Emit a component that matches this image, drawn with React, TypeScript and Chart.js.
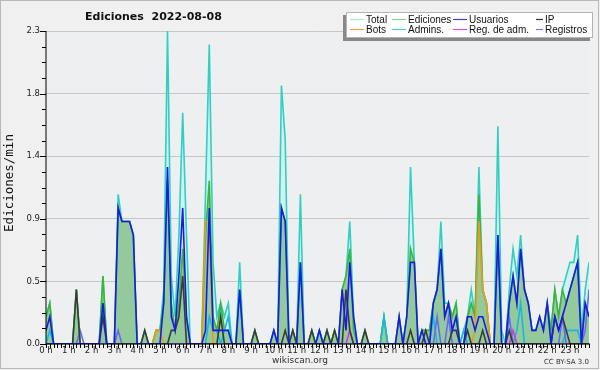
import React, { useEffect, useRef } from 'react';
import { Chart, registerables } from 'chart.js';

Chart.register(...registerables);

// ---- labels ----
const TITLE = 'Ediciones  2022-08-08';
const Y_TITLE = 'Ediciones/min';
const HOURS = ['0 h','1 h','2 h','3 h','4 h','5 h','6 h','7 h','8 h','9 h','10 h','11 h','12 h','13 h','14 h','15 h','16 h','17 h','18 h','19 h','20 h','21 h','22 h','23 h'];
const Y_MAX = 2.3;
const Y_LABELS = ['0.0', '0.5', '0.9', '1.4', '1.8', '2.3'];
const LEGEND_ROW1 = ['Total', 'Ediciones', 'Usuarios', 'IP'];
const LEGEND_ROW2 = ['Bots', 'Admins.', 'Reg. de adm.', 'Registros'];

// ---- data: edits per minute, one value per 10 minutes (6 per hour) ----
const total = [
  0.2,0.3,0,0,0,0,   0,0,0.4,0,0,0,   0,0,0,0.5,0,0,   0,1.1,0.9,0.9,0.9,0.8,
  0,0,0.1,0,0,0.1,   0.1,0.4,2.3,0.5,0.2,0.8,   1.7,0.8,0,0,0,0,   1.1,2.2,0.6,0.2,0.3,0.2,
  0.3,0,0,0.6,0,0,   0,0.1,0,0,0,0,   0.1,0,1.9,1.5,0,0.1,   0,1.1,0,0,0.1,0,
  0.1,0,0.1,0,0.1,0,   0.4,0.5,0.9,0.2,0,0,   0.1,0,0,0,0,0.2,   0,0,0,0.2,0,0.2,
  1.3,0.6,0,0.1,0.1,0.1,   0.3,0.4,0.9,0.3,0.3,0.2,   0.3,0,0.1,0.2,0.4,0.2,   1.3,0.4,0.3,0,0,1.6,
  0.1,0,0.4,0.7,0.5,0.8,   0.4,0.3,0.1,0.1,0.2,0.1,   0.3,0.1,0.4,0.2,0.4,0.5,   0.6,0.6,0.8,0.1,0.4,0.6,
];
const ediciones = [
  0.2,0.3,0,0,0,0,   0,0,0.4,0,0,0,   0,0,0,0.5,0,0,   0,1.0,0.9,0.9,0.9,0.8,
  0,0,0.1,0,0,0.1,   0.1,0.3,1.2,0.3,0.1,0.3,   0.7,0.2,0,0,0,0,   0.8,1.2,0.2,0.1,0.3,0.1,
  0.1,0,0,0.4,0,0,   0,0.1,0,0,0,0,   0.1,0,1.0,0.9,0,0.1,   0,0.6,0,0,0.1,0,
  0.1,0,0.1,0,0.1,0,   0.4,0.5,0.7,0.1,0,0,   0.1,0,0,0,0,0.2,   0,0,0,0.2,0,0.2,
  0.7,0.6,0,0.1,0.1,0.1,   0.3,0.4,0.7,0.2,0.3,0.2,   0.3,0,0,0.2,0.3,0.2,   1.1,0.4,0.3,0,0,0.8,
  0,0,0.3,0.5,0.3,0.7,   0.4,0.3,0.1,0.1,0.2,0.1,   0.3,0.1,0.4,0.2,0.4,0.3,   0.4,0.5,0.6,0,0.3,0.2,
];
const usuarios = [
  0.1,0.2,0,0,0,0,   0,0,0,0,0,0,   0,0,0,0.3,0,0,   0,1.0,0.9,0.9,0.9,0.8,
  0,0,0,0,0,0,   0,0.3,1.3,0.2,0.1,0.5,   1.0,0.2,0,0,0,0,   0.1,1.0,0.1,0.1,0.1,0.1,
  0.1,0,0,0.4,0,0,   0,0,0,0,0,0,   0.1,0,1.0,0.9,0,0,   0,0.6,0,0,0,0,
  0.1,0,0,0,0,0,   0.4,0.1,0.6,0.2,0,0,   0,0,0,0,0,0,   0,0,0,0.2,0,0.2,
  0.6,0.6,0,0.1,0,0,   0.3,0.4,0.7,0.2,0.3,0.1,   0.2,0,0,0.2,0.2,0.1,   0.2,0.2,0.1,0,0,0.8,
  0,0,0.3,0.5,0.3,0.7,   0.4,0.3,0.1,0.1,0.2,0.1,   0.3,0,0.2,0.1,0.2,0.3,   0.4,0.5,0.6,0,0.3,0.2,
];
const ip = [
  0,0,0,0,0,0,   0,0,0.4,0,0,0,   0,0,0,0.2,0,0,   0,0,0,0,0,0,
  0,0,0.1,0,0,0,   0,0,0,0.1,0.1,0.2,   0.5,0,0,0,0,0,   0,0,0,0,0.2,0,
  0,0,0,0,0,0,   0,0.1,0,0,0,0,   0,0,0,0.1,0,0.1,   0,0,0,0,0.1,0,
  0,0,0.1,0,0.1,0,   0,0.4,0.1,0,0,0,   0.1,0,0,0,0,0,   0,0,0,0,0,0,
  0.1,0,0,0,0.1,0,   0,0,0,0,0,0.1,   0.1,0,0,0.1,0,0,   0,0.1,0,0,0,0,
  0,0,0.1,0,0,0,   0,0,0,0,0,0,   0,0,0.2,0.1,0.2,0.1,   0,0,0,0,0,0,
];
const bots = [
  0,0,0,0,0,0,   0,0,0,0,0,0,   0,0,0,0,0,0,   0,0,0,0,0,0,
  0,0,0,0,0,0.1,   0.1,0,0,0,0,0,   0,0,0,0,0,0,   0.9,0.9,0,0,0,0,
  0,0,0,0,0,0,   0,0,0,0,0,0,   0,0,0,0,0,0,   0,0,0,0,0,0,
  0,0,0,0,0,0,   0,0,0,0,0,0,   0,0,0,0,0,0,   0,0,0,0,0,0,
  0,0,0,0,0,0,   0,0,0,0,0,0,   0,0,0,0,0,0.1,   0.9,0.4,0.3,0,0,0,
  0,0,0,0,0,0,   0,0,0,0,0,0,   0,0,0,0,0,0,   0,0,0,0,0,0,
];
const admins = [
  0,0.1,0,0,0,0,   0,0,0,0,0,0,   0,0,0,0,0,0,   0,0,0,0,0,0,
  0,0,0,0,0,0,   0,0,0,0,0,0,   0,0,0,0,0,0,   0,0.2,0.1,0.1,0,0.1,
  0.2,0,0,0,0,0,   0,0,0,0,0,0,   0,0,0,0,0,0,   0,0,0,0,0,0,
  0.1,0,0,0,0,0,   0,0,0,0,0,0,   0,0,0,0,0,0.2,   0,0,0,0,0,0,
  0,0,0,0,0,0,   0.2,0,0,0,0,0,   0,0,0.1,0,0,0,   0,0,0,0,0,0,
  0,0,0,0,0.1,0.3,   0,0,0,0,0,0,   0,0,0,0,0,0.1,   0.1,0.1,0.1,0,0,0,
];
const regAdm = [
  0,0,0,0,0,0,   0,0,0,0,0,0,   0,0,0,0,0,0,   0,0,0,0,0,0,
  0,0,0,0,0,0,   0,0,0,0,0,0,   0,0,0,0,0,0,   0,0,0,0,0,0,
  0,0,0,0,0,0,   0,0,0,0,0,0,   0,0,0,0,0,0,   0,0,0,0,0,0,
  0,0,0,0,0,0,   0,0,0.1,0,0,0,   0,0,0,0,0,0,   0,0,0,0,0,0,
  0,0,0,0,0,0,   0,0,0,0,0,0,   0,0,0,0,0,0,   0,0,0,0,0,0,
  0,0,0,0.1,0,0,   0,0,0,0,0,0,   0,0,0,0,0,0,   0,0,0,0,0,0,
];
const registros = [
  0,0,0,0,0,0,   0,0,0,0.1,0,0,   0,0,0,0,0,0,   0,0.1,0,0,0,0,
  0,0,0,0,0,0,   0,0,0,0,0,0,   0,0,0,0,0,0,   0,0,0,0,0,0,
  0,0,0,0,0,0,   0,0,0,0,0,0,   0,0,0,0,0,0,   0,0,0,0,0,0,
  0,0,0,0,0,0,   0,0,0,0,0,0,   0,0,0,0,0,0,   0,0,0,0,0,0,
  0,0,0,0,0,0,   0,0.2,0,0,0.2,0,   0,0,0,0,0,0,   0,0,0,0,0,0,
  0,0,0.2,0,0,0,   0,0,0,0,0,0,   0,0,0,0,0.2,0,   0,0,0,0,0.1,0.4,
];

const FONT = 'DejaVu Sans';

const decor = {
  id: 'decor',
  beforeDraw(chart: any) {
    const { ctx, chartArea: a, width, height } = chart;
    ctx.save();
    ctx.fillStyle = '#f0f0f0';
    ctx.fillRect(0, 0, width, height);
    ctx.fillStyle = '#eeeff1';
    ctx.fillRect(a.left, a.top, a.right - a.left, a.bottom - a.top);
    ctx.restore();
  },
  afterDraw(chart: any) {
    const { ctx, chartArea: a, width, height } = chart;
    const xs = chart.scales.x;
    const ys = chart.scales.y;
    ctx.save();
    // axes
    ctx.strokeStyle = '#000';
    ctx.lineWidth = 1;
    ctx.beginPath();
    ctx.moveTo(a.left, a.top);
    ctx.lineTo(a.left, a.bottom);
    ctx.lineTo(a.right + 1, a.bottom);
    ctx.stroke();
    // x tick marks + hour labels (positions from the x scale)
    ctx.beginPath();
    for (let i = 0; i < total.length; i++) {
      const px = Math.round(xs.getPixelForValue(i)) + 0.5;
      ctx.moveTo(px, a.bottom);
      ctx.lineTo(px, a.bottom + 4);
    }
    ctx.stroke();
    ctx.fillStyle = '#222';
    ctx.font = `8.5px ${FONT}`;
    ctx.textAlign = 'center';
    ctx.textBaseline = 'middle';
    HOURS.forEach((h, k) => {
      ctx.fillText(h, xs.getPixelForValue(k * 6), a.bottom + 7);
    });
    // y tick marks
    ctx.beginPath();
    ys.ticks.forEach((t: any, k: number) => {
      const py = Math.round(ys.getPixelForValue(t.value)) + 0.5;
      ctx.moveTo(a.left - (k % 4 === 0 ? 6 : 4), py);
      ctx.lineTo(a.left, py);
    });
    ctx.stroke();

    // title
    ctx.fillStyle = '#111';
    ctx.font = `bold 11px ${FONT}`;
    ctx.textBaseline = 'middle';
    ctx.textAlign = 'left';
    ctx.fillText(TITLE, 85, 17);

    // y title
    ctx.save();
    ctx.translate(10, 183);
    ctx.rotate(-Math.PI / 2);
    ctx.font = `12.5px 'DejaVu Sans Mono'`;
    ctx.textAlign = 'center';
    ctx.fillStyle = '#111';
    ctx.fillText(Y_TITLE, 0, 0);
    ctx.restore();

    // legend
    const bx = 346, by = 12, bw = 247, bh = 26;
    ctx.fillStyle = '#888';
    ctx.fillRect(bx - 3, by + 3, bw, bh);
    ctx.fillStyle = '#fff';
    ctx.fillRect(bx, by, bw, bh);
    ctx.strokeStyle = '#b4b4b4';
    ctx.strokeRect(bx + 0.5, by + 0.5, bw - 1, bh - 1);
    const colStart = [350, 392, 453, 536];
    const colEnd = [364, 406, 467, 543];
    const rows = [LEGEND_ROW1, LEGEND_ROW2];
    const dsByLabel: Record<string, any> = {};
    chart.data.datasets.forEach((d: any) => { dsByLabel[d.label] = d; });
    ctx.font = `10px 'Liberation Sans'`;
    ctx.textBaseline = 'middle';
    ctx.textAlign = 'left';
    rows.forEach((row, r) => {
      const cy = r === 0 ? 19.5 : 29.5;
      row.forEach((lab, c) => {
        const d = dsByLabel[lab];
        ctx.strokeStyle = d ? d.legendColor : '#000';
        ctx.lineWidth = 1.2;
        ctx.beginPath();
        ctx.moveTo(colStart[c], cy);
        ctx.lineTo(colEnd[c], cy);
        ctx.stroke();
        ctx.fillStyle = '#111';
        ctx.fillText(lab, colEnd[c] + 2, cy + 0.5);
      });
    });

    // footer
    ctx.fillStyle = '#333';
    ctx.font = `9px ${FONT}`;
    ctx.textAlign = 'center';
    ctx.fillText('wikiscan.org', 300, 361);
    ctx.font = `7px ${FONT}`;
    ctx.textAlign = 'right';
    ctx.fillText('CC BY-SA 3.0', 589, 362);

    // outer frame
    ctx.strokeStyle = '#b8b8b8';
    ctx.lineWidth = 1;
    ctx.strokeRect(0.5, 0.5, width - 2, height - 2);
    ctx.restore();
  },
};

function series(label: string, values: number[], color: string, legendColor: string, extra: any = {}) {
  return {
    label,
    data: values.map((v, i) => ({ x: i, y: v })),
    borderColor: color,
    backgroundColor: 'rgba(0,0,0,0)',
    borderWidth: 1.6,
    fill: false,
    legendColor,
    ...extra,
  };
}

export default function App() {
  const ref = useRef<HTMLCanvasElement | null>(null);
  useEffect(() => {
    if (!ref.current) return;
    const datasets = [
      series('Usuarios', usuarios, '#1a1ae6', '#3c3ce0'),
      series('IP', ip, '#3a3a3a', '#333333'),
      series('Registros', registros, '#6a6af0', '#7878e8'),
      series('Reg. de adm.', regAdm, '#d838d8', '#d850d8'),
      series('Admins.', admins, '#18b8e0', '#50c8e0'),
      series('Bots', bots, '#f09a10', '#f0a040'),
      series('Ediciones', ediciones, '#3cb43c', '#8ed08e', { fill: 'origin', backgroundColor: '#93c99b' }),
      series('Total', total, '#2ed0c4', '#a8e6dc', { fill: 'origin', backgroundColor: '#d2f1ec' }),
    ];
    const chart = new Chart(ref.current, {
      type: 'line',
      data: { datasets: datasets as any },
      options: {
        animation: false,
        responsive: false,
        layout: { padding: { left: 0, top: 31, right: 11, bottom: 0 } },
        elements: { point: { radius: 0 }, line: { tension: 0 } },
        plugins: { legend: { display: false }, tooltip: { enabled: false }, title: { display: false } },
        scales: {
          x: {
            type: 'linear',
            min: 0,
            max: total.length - 1,
            afterBuildTicks: (s: any) => { s.ticks = total.map((_, i) => ({ value: i })); },
            afterFit: (s: any) => { s.height = 26; },
            grid: { display: false },
            border: { display: false },
            ticks: { display: false },
          },
          y: {
            min: 0,
            max: Y_MAX,
            afterBuildTicks: (s: any) => {
              const t = [];
              for (let k = 0; k <= 20; k++) t.push({ value: (Y_MAX * k) / 20 });
              s.ticks = t;
            },
            afterFit: (s: any) => { s.width = 46; },
            border: { display: false },
            grid: {
              drawTicks: false,
              color: (c: any) => (c.index % 4 === 0 ? '#c6c6c6' : 'rgba(0,0,0,0)'),
            },
            ticks: {
              padding: 6,
              color: '#222',
              font: { family: FONT, size: 8.5 },
              callback: (_v: any, i: number) => (i % 4 === 0 ? Y_LABELS[i / 4] : ''),
            },
          },
        },
      },
      plugins: [decor],
    });
    return () => chart.destroy();
  }, []);
  return (
    <div style={{ position: 'fixed', left: 0, top: 0, width: 600, height: 370 }}>
      <canvas ref={ref} width={600} height={370} style={{ display: 'block', width: 600, height: 370 }} />
    </div>
  );
}
